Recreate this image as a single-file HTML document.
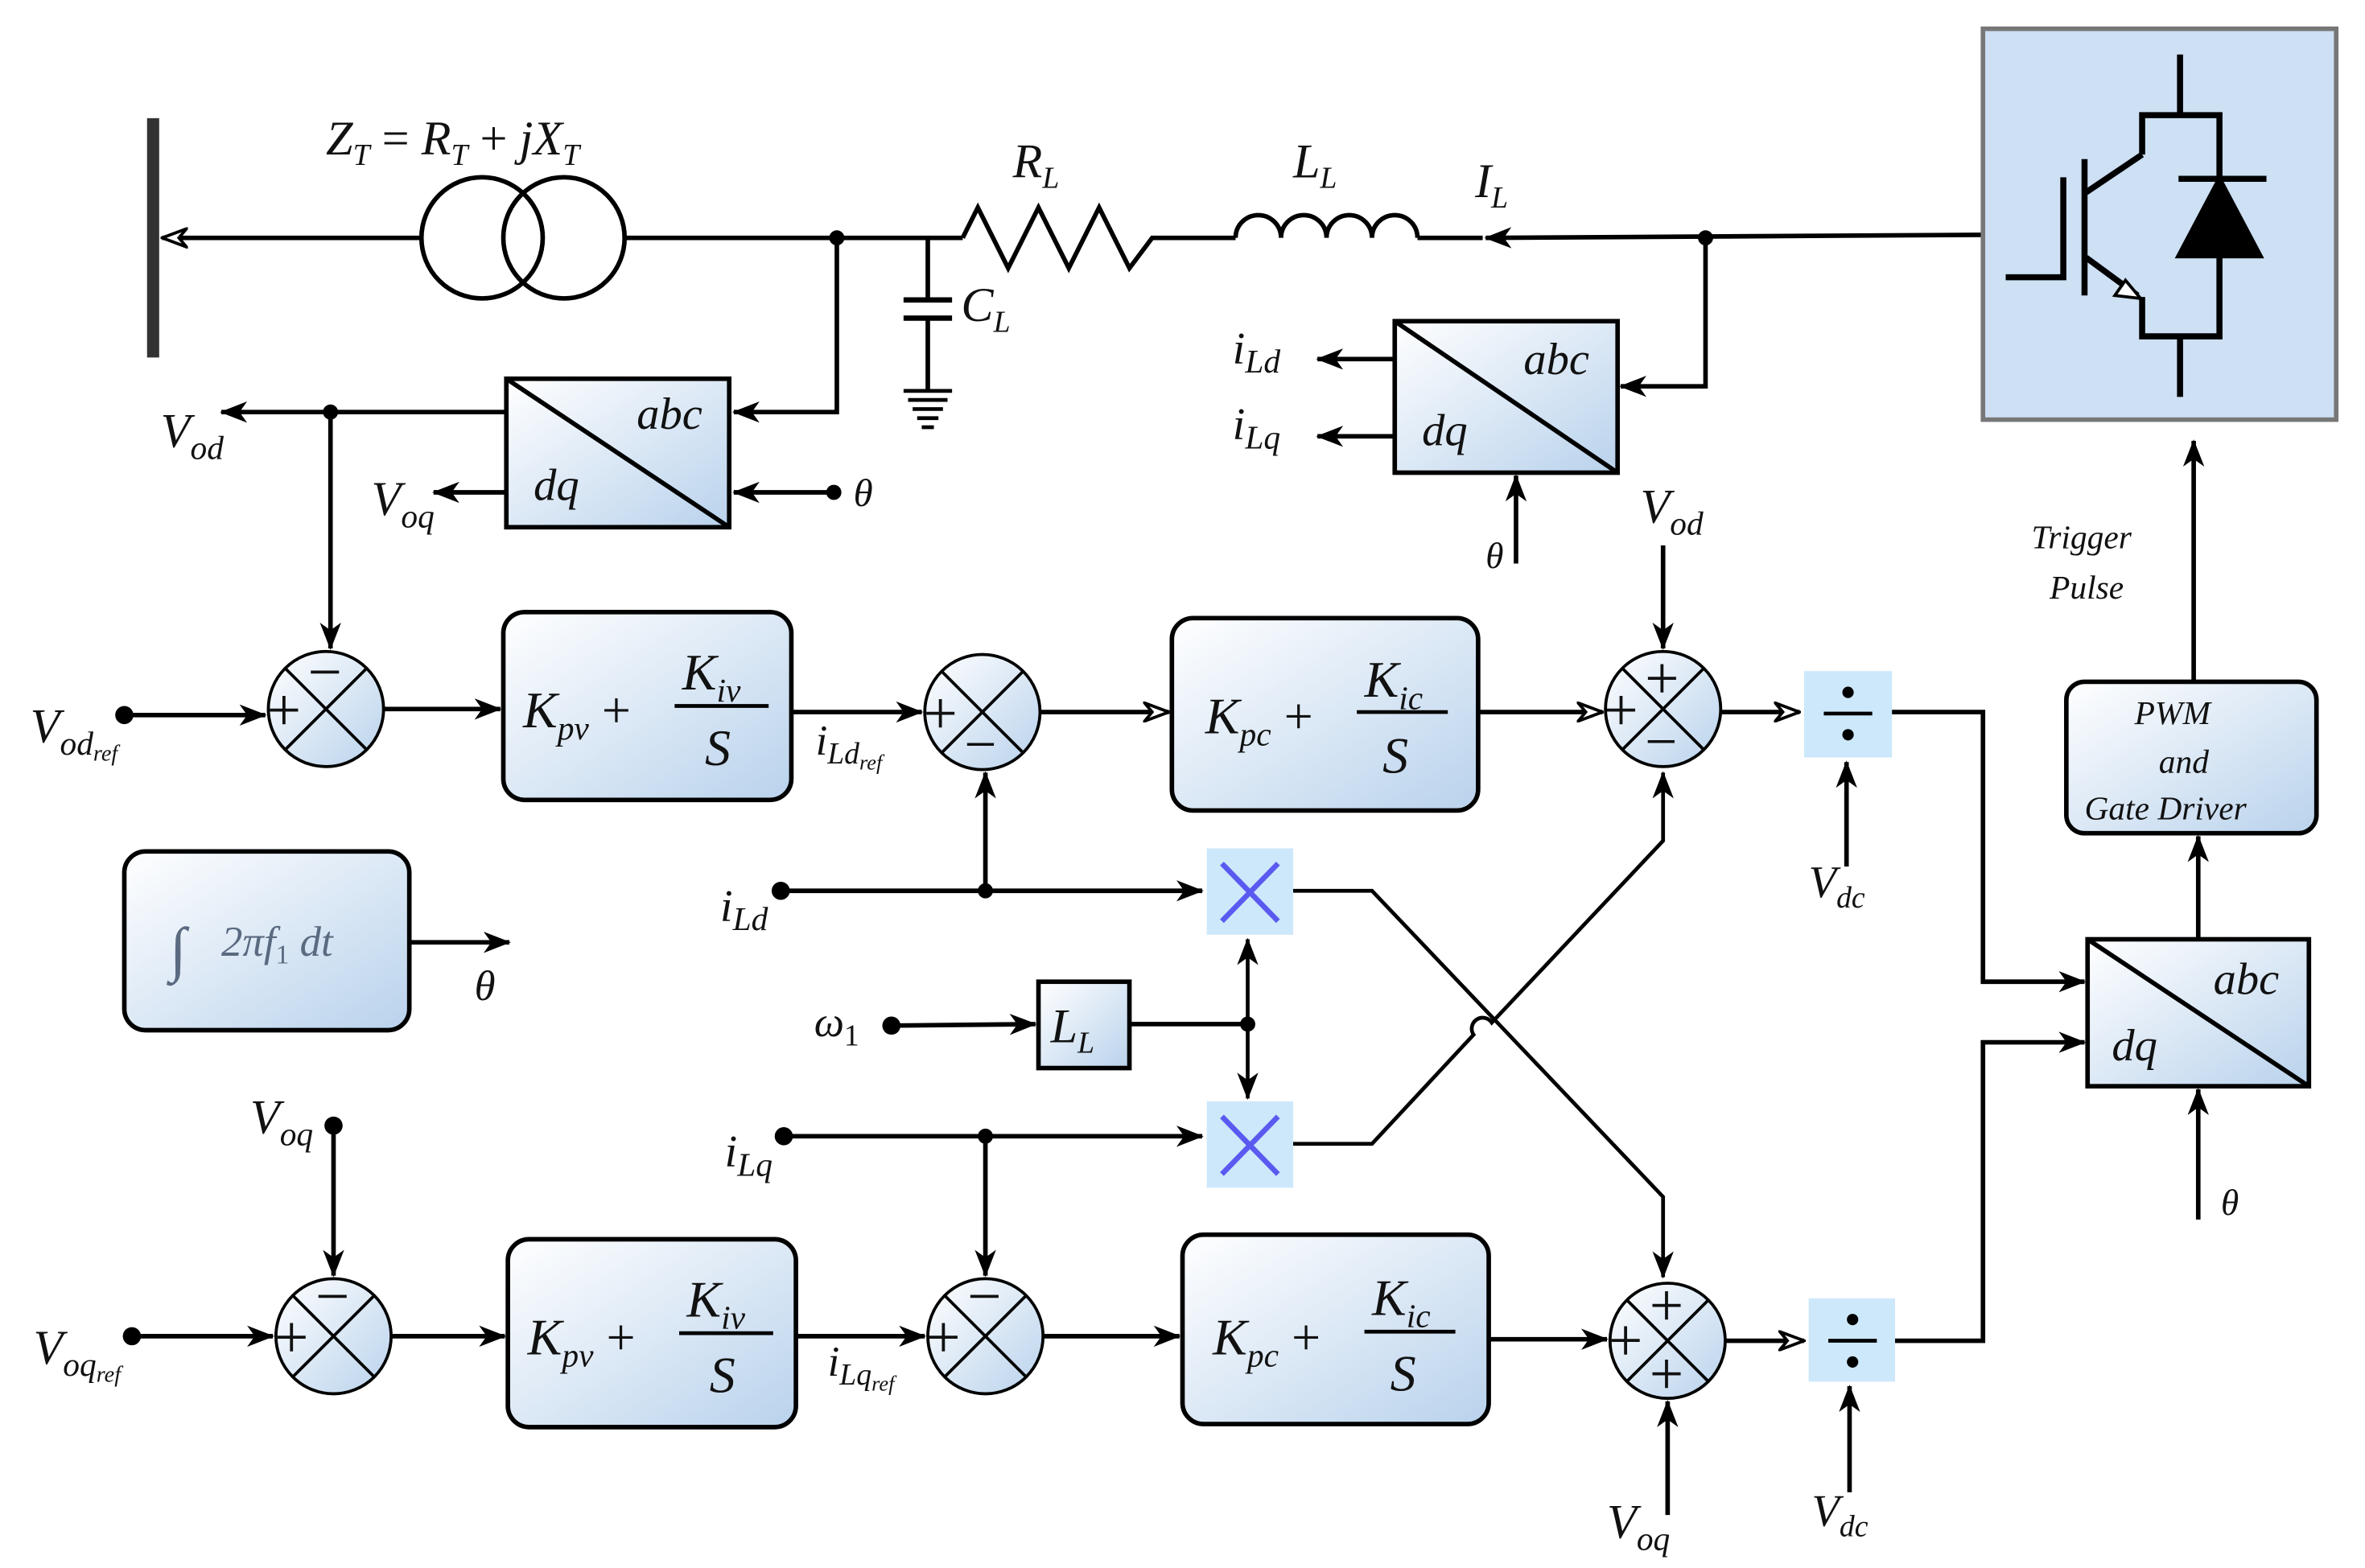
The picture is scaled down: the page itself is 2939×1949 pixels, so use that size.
<!DOCTYPE html>
<html><head><meta charset="utf-8"><style>
html,body{margin:0;padding:0;background:#fff;}
svg{display:block;}
text{font-family:"Liberation Serif",serif;font-style:italic;fill:#111;}
</style></head><body>
<svg width="2939" height="1949" viewBox="0 0 1560 1035" preserveAspectRatio="none" xmlns="http://www.w3.org/2000/svg">
<defs>
<linearGradient id="g" x1="0" y1="0" x2="1" y2="1">
<stop offset="0" stop-color="#ffffff"/><stop offset="1" stop-color="#b9d2ec"/>
</linearGradient>
<marker id="a" markerWidth="18" markerHeight="14" refX="17" refY="7" orient="auto" markerUnits="userSpaceOnUse">
<path d="M0,0 L18,7 L0,14 L5,7 Z" fill="#000"/></marker>
<marker id="o" markerWidth="18" markerHeight="14" refX="17" refY="7" orient="auto" markerUnits="userSpaceOnUse">
<path d="M1,1 L17,7 L1,13 L6,7 Z" fill="#fff" stroke="#000" stroke-width="2"/></marker>
</defs>
<g stroke="#000" stroke-width="3" fill="none">
<line x1="101" y1="78" x2="101" y2="236" stroke="#333" stroke-width="8"/>
<line x1="278" y1="157" x2="107" y2="157" marker-end="url(#o)"/>
<circle cx="318" cy="157" r="40"/><circle cx="372" cy="157" r="40"/>
<line x1="412" y1="157" x2="635" y2="157"/>
<polyline points="635,157 645,137 665,177 685,137 705,177 725,137 745,177 760,157 815,157"/>
<path d="M815,157 a15,15 0 0 1 30,0 a15,15 0 0 1 30,0 a15,15 0 0 1 30,0 a15,15 0 0 1 30,0 M935,157 L978,157"/>
<line x1="1310" y1="155" x2="980" y2="157" marker-end="url(#a)"/>
<line x1="612" y1="157" x2="612" y2="198"/>
<line x1="596" y1="198" x2="628" y2="198" stroke-width="3.5"/>
<line x1="596" y1="210" x2="628" y2="210" stroke-width="3.5"/>
<line x1="612" y1="210" x2="612" y2="258"/>
<line x1="596" y1="258" x2="628" y2="258" stroke-width="2.5"/>
<line x1="599" y1="264" x2="625" y2="264" stroke-width="2.5"/>
<line x1="602" y1="270" x2="622" y2="270" stroke-width="2.5"/>
<line x1="605" y1="276" x2="619" y2="276" stroke-width="2.5"/>
<line x1="608" y1="282" x2="616" y2="282" stroke-width="2.5"/>
<polyline points="552,157 552,272 484,272" marker-end="url(#a)"/>
<rect x="334" y="250" width="147" height="98" fill="url(#g)"/>
<line x1="334" y1="250" x2="481" y2="348"/>
<line x1="334" y1="272" x2="146" y2="272" marker-end="url(#a)"/>
<line x1="334" y1="325" x2="286" y2="325" marker-end="url(#a)"/>
<line x1="550" y1="325" x2="484" y2="325" marker-end="url(#a)"/>
<line x1="218" y1="272" x2="218" y2="428" marker-end="url(#a)"/>
<polyline points="1125,157 1125,255 1069,255" marker-end="url(#a)"/>
<rect x="920" y="212" width="147" height="100" fill="url(#g)"/>
<line x1="920" y1="212" x2="1067" y2="312"/>
<line x1="920" y1="237" x2="869" y2="237" marker-end="url(#a)"/>
<line x1="920" y1="288" x2="869" y2="288" marker-end="url(#a)"/>
<line x1="1000" y1="372" x2="1000" y2="314" marker-end="url(#a)"/>
<rect x="1308" y="19" width="233" height="258" fill="#cde0f4" stroke="#777" stroke-width="3"/>
<g stroke-width="4">
<line x1="1438" y1="36" x2="1438" y2="76"/>
<polyline points="1413,102 1413,76 1464,76 1464,222 1413,222 1413,196"/>
<line x1="1413" y1="102" x2="1376" y2="127"/>
<line x1="1375" y1="105" x2="1375" y2="195"/>
<polyline points="1361,117 1361,183 1323,183"/>
<line x1="1376" y1="170" x2="1410" y2="195"/>
<line x1="1437" y1="118" x2="1495" y2="118"/>
<line x1="1438" y1="222" x2="1438" y2="262"/>
</g>
<path d="M1464,118 L1437,169 L1491,169 Z" fill="#000"/>
<path d="M1412,197 L1395,195 L1402,185 Z" fill="#fff" stroke-width="2"/>
<line x1="82" y1="472" x2="175" y2="472" marker-end="url(#a)"/>
<circle cx="215" cy="468" r="38" fill="url(#g)" stroke-width="2"/>
<line x1="188" y1="441" x2="242" y2="495" stroke-width="2"/><line x1="242" y1="441" x2="188" y2="495" stroke-width="2"/>
<line x1="253" y1="468" x2="330" y2="468" marker-end="url(#a)"/>
<rect x="332" y="404" width="190" height="124" rx="14" fill="url(#g)"/>
<line x1="522" y1="470" x2="608" y2="470" marker-end="url(#a)"/>
<circle cx="648" cy="470" r="38" fill="url(#g)" stroke-width="2"/>
<line x1="621" y1="443" x2="675" y2="497" stroke-width="2"/><line x1="675" y1="443" x2="621" y2="497" stroke-width="2"/>
<line x1="686" y1="470" x2="771" y2="470" marker-end="url(#o)"/>
<rect x="773" y="408" width="202" height="127" rx="14" fill="url(#g)"/>
<line x1="975" y1="470" x2="1057" y2="470" marker-end="url(#o)"/>
<circle cx="1097" cy="468" r="38" fill="url(#g)" stroke-width="2"/>
<line x1="1070" y1="441" x2="1124" y2="495" stroke-width="2"/><line x1="1124" y1="441" x2="1070" y2="495" stroke-width="2"/>
<line x1="1097" y1="360" x2="1097" y2="428" marker-end="url(#a)"/>
<line x1="1135" y1="470" x2="1187" y2="470" marker-end="url(#o)"/>
<rect x="1190" y="443" width="58" height="57" fill="#cde8fb" stroke="none"/>
<line x1="1218" y1="572" x2="1218" y2="503" marker-end="url(#a)"/>
<polyline points="1248,470 1308,470 1308,648 1375,648" marker-end="url(#a)"/>
<rect x="1377" y="620" width="146" height="97" fill="url(#g)"/>
<line x1="1377" y1="620" x2="1523" y2="717"/>
<polyline points="1250,885 1308,885 1308,688 1375,688" marker-end="url(#a)"/>
<line x1="1450" y1="805" x2="1450" y2="719" marker-end="url(#a)"/>
<line x1="1450" y1="620" x2="1450" y2="552" marker-end="url(#a)"/>
<rect x="1363" y="450" width="165" height="100" rx="12" fill="url(#g)"/>
<line x1="1447" y1="450" x2="1447" y2="291" marker-end="url(#a)"/>
<line x1="515" y1="588" x2="793" y2="588" marker-end="url(#a)"/>
<line x1="650" y1="588" x2="650" y2="510" marker-end="url(#a)"/>
<rect x="796" y="560" width="57" height="57" fill="#cde8fb" stroke="none"/>
<rect x="796" y="727" width="57" height="57" fill="#cde8fb" stroke="none"/>
<line x1="588" y1="677" x2="683" y2="676" marker-end="url(#a)"/>
<rect x="685" y="648" width="60" height="57" fill="url(#g)"/>
<line x1="745" y1="676" x2="823" y2="676"/>
<line x1="823" y1="676" x2="823" y2="620" marker-end="url(#a)" stroke-width="2.5"/>
<line x1="823" y1="676" x2="823" y2="725" marker-end="url(#a)" stroke-width="2.5"/>
<line x1="517" y1="750" x2="793" y2="750" marker-end="url(#a)"/>
<line x1="650" y1="750" x2="650" y2="842" marker-end="url(#a)"/>
<polyline points="853,588 905,588 1097,790 1097,843" marker-end="url(#a)" stroke-width="2.5"/>
<path d="M853,755 L905,755 L972,683 a6,6 0 0 1 12,-8 L1097,555 L1097,510" marker-end="url(#a)" stroke-width="2.5"/>
<rect x="82" y="562" width="188" height="118" rx="14" fill="url(#g)"/>
<line x1="270" y1="622" x2="336" y2="622" marker-end="url(#a)"/>
<line x1="220" y1="743" x2="220" y2="842" marker-end="url(#a)"/>
<line x1="87" y1="882" x2="180" y2="882" marker-end="url(#a)"/>
<circle cx="220" cy="882" r="38" fill="url(#g)" stroke-width="2"/>
<line x1="193" y1="855" x2="247" y2="909" stroke-width="2"/><line x1="247" y1="855" x2="193" y2="909" stroke-width="2"/>
<line x1="258" y1="882" x2="333" y2="882" marker-end="url(#a)"/>
<rect x="335" y="818" width="190" height="124" rx="14" fill="url(#g)"/>
<line x1="525" y1="882" x2="610" y2="882" marker-end="url(#a)"/>
<circle cx="650" cy="882" r="38" fill="url(#g)" stroke-width="2"/>
<line x1="623" y1="855" x2="677" y2="909" stroke-width="2"/><line x1="677" y1="855" x2="623" y2="909" stroke-width="2"/>
<line x1="688" y1="882" x2="778" y2="882" marker-end="url(#a)"/>
<rect x="780" y="815" width="202" height="125" rx="14" fill="url(#g)"/>
<line x1="982" y1="884" x2="1060" y2="884" marker-end="url(#a)"/>
<circle cx="1100" cy="885" r="38" fill="url(#g)" stroke-width="2"/>
<line x1="1073" y1="858" x2="1127" y2="912" stroke-width="2"/><line x1="1127" y1="858" x2="1073" y2="912" stroke-width="2"/>
<line x1="1100" y1="1000" x2="1100" y2="925" marker-end="url(#a)"/>
<line x1="1138" y1="885" x2="1190" y2="885" marker-end="url(#o)"/>
<rect x="1193" y="857" width="57" height="55" fill="#cde8fb" stroke="none"/>
<line x1="1220" y1="985" x2="1220" y2="915" marker-end="url(#a)"/>
</g>
<g fill="#000">
<circle cx="552" cy="157" r="5"/><circle cx="1125" cy="157" r="5"/><circle cx="218" cy="272" r="5"/>
<circle cx="550" cy="325" r="5"/><circle cx="82" cy="472" r="6"/><circle cx="515" cy="588" r="6"/>
<circle cx="650" cy="588" r="5"/><circle cx="588" cy="677" r="6"/><circle cx="823" cy="676" r="5"/>
<circle cx="517" cy="750" r="6"/><circle cx="650" cy="750" r="5"/><circle cx="220" cy="743" r="6"/>
<circle cx="87" cy="882" r="6"/>
</g>
<g fill="#000" stroke="#000" stroke-width="2.5">
<line x1="1203" y1="471" x2="1235" y2="471"/><circle cx="1219" cy="457" r="2.5"/><circle cx="1219" cy="485" r="2.5"/>
<line x1="1206" y1="885" x2="1238" y2="885"/><circle cx="1222" cy="871" r="2.5"/><circle cx="1222" cy="899" r="2.5"/>
</g>
<g stroke="#5a5af0" stroke-width="3.5">
<line x1="806" y1="570" x2="843" y2="608"/><line x1="843" y1="570" x2="806" y2="608"/>
<line x1="806" y1="737" x2="843" y2="775"/><line x1="843" y1="737" x2="806" y2="775"/>
</g>
<g style="font-style:normal">
<text x="176" y="482" font-size="40" style="font-style:normal">+</text><text x="203" y="457" font-size="40" style="font-style:normal">−</text>
<text x="609" y="484" font-size="40" style="font-style:normal">+</text><text x="636" y="504" font-size="38" style="font-style:normal">−</text>
<text x="1058" y="482" font-size="40" style="font-style:normal">+</text><text x="1085" y="461" font-size="40" style="font-style:normal">+</text><text x="1085" y="502" font-size="38" style="font-style:normal">−</text>
<text x="181" y="896" font-size="40" style="font-style:normal">+</text><text x="208" y="869" font-size="40" style="font-style:normal">−</text>
<text x="611" y="896" font-size="40" style="font-style:normal">+</text><text x="638" y="869" font-size="40" style="font-style:normal">−</text>
<text x="1061" y="898" font-size="40" style="font-style:normal">+</text><text x="1088" y="875" font-size="40" style="font-style:normal">+</text><text x="1088" y="920" font-size="40" style="font-style:normal">+</text>
</g>
<text x="215" y="102" font-size="32">Z<tspan font-size="20" dy="7">T</tspan><tspan dy="-7" style="font-style:normal"> = </tspan>R<tspan font-size="20" dy="7">T</tspan><tspan dy="-7" style="font-style:normal"> + </tspan>jX<tspan font-size="20" dy="7">T</tspan></text>
<text x="668" y="117" font-size="32">R<tspan font-size="20" dy="7">L</tspan></text>
<text x="853" y="117" font-size="32">L<tspan font-size="20" dy="7">L</tspan></text>
<text x="973" y="130" font-size="32">I<tspan font-size="20" dy="7">L</tspan></text>
<text x="634" y="212" font-size="32">C<tspan font-size="20" dy="7">L</tspan></text>
<text x="106" y="295" font-size="32">V<tspan font-size="22" dy="8">od</tspan></text>
<text x="245" y="340" font-size="32">V<tspan font-size="22" dy="8">oq</tspan></text>
<text x="420" y="283" font-size="30">abc</text>
<text x="352" y="330" font-size="30">dq</text>
<text x="563" y="334" font-size="26">θ</text>
<text x="1005" y="247" font-size="30">abc</text>
<text x="938" y="294" font-size="30">dq</text>
<text x="813" y="240" font-size="30">i<tspan font-size="22" dy="6">Ld</tspan></text>
<text x="813" y="290" font-size="30">i<tspan font-size="22" dy="6">Lq</tspan></text>
<text x="980" y="375" font-size="24">θ</text>
<text x="1082" y="345" font-size="32">V<tspan font-size="22" dy="8">od</tspan></text>
<text x="1340" y="362" font-size="22">Trigger</text>
<text x="1352" y="395" font-size="22">Pulse</text>
<text x="1408" y="478" font-size="22">PWM</text>
<text x="1424" y="510" font-size="22">and</text>
<text x="1375" y="541" font-size="22">Gate Driver</text>
<text x="1460" y="656" font-size="30">abc</text>
<text x="1393" y="700" font-size="30">dq</text>
<text x="1465" y="802" font-size="24">θ</text>
<text x="1193" y="592" font-size="30">V<tspan font-size="20" dy="7">dc</tspan></text>
<text x="1195" y="1007" font-size="30">V<tspan font-size="20" dy="7">dc</tspan></text>
<text x="1060" y="1015" font-size="32">V<tspan font-size="22" dy="8">oq</tspan></text>
<text x="20" y="490" font-size="32">V<tspan font-size="22" dy="8">od</tspan><tspan font-size="15" dy="4">ref</tspan></text>
<text x="22" y="900" font-size="32">V<tspan font-size="22" dy="8">oq</tspan><tspan font-size="15" dy="4">ref</tspan></text>
<text x="165" y="748" font-size="32">V<tspan font-size="22" dy="8">oq</tspan></text>
<text x="538" y="498" font-size="28">i<tspan font-size="20" dy="6">Ld</tspan><tspan font-size="14" dy="4">ref</tspan></text>
<text x="546" y="908" font-size="28">i<tspan font-size="20" dy="6">Lq</tspan><tspan font-size="14" dy="4">ref</tspan></text>
<text x="475" y="608" font-size="30">i<tspan font-size="22" dy="6">Ld</tspan></text>
<text x="478" y="770" font-size="30">i<tspan font-size="22" dy="6">Lq</tspan></text>
<text x="537" y="684" font-size="28">ω<tspan font-size="20" dy="6" style="font-style:normal">1</tspan></text>
<text x="693" y="688" font-size="32">L<tspan font-size="20" dy="7">L</tspan></text>
<text x="313" y="660" font-size="28">θ</text>
<text x="112" y="640" font-size="40" style="fill:#5a6a80">∫</text>
<text x="146" y="631" font-size="28" style="fill:#5a6a80">2πf<tspan font-size="18" dy="5" style="font-style:normal">1</tspan><tspan dy="-5"> dt</tspan></text>
<g font-size="34">
<text x="345" y="480">K<tspan font-size="22" dy="8">pv</tspan><tspan dy="-8" style="font-style:normal"> + </tspan></text>
<text x="450" y="455">K<tspan font-size="22" dy="8">iv</tspan></text><line x1="445" y1="466" x2="507" y2="466" stroke="#000" stroke-width="2.5"/><text x="465" y="505">S</text>
<text x="795" y="484">K<tspan font-size="22" dy="8">pc</tspan><tspan dy="-8" style="font-style:normal"> + </tspan></text>
<text x="900" y="460">K<tspan font-size="22" dy="8">ic</tspan></text><line x1="895" y1="470" x2="955" y2="470" stroke="#000" stroke-width="2.5"/><text x="912" y="510">S</text>
<text x="348" y="894">K<tspan font-size="22" dy="8">pv</tspan><tspan dy="-8" style="font-style:normal"> + </tspan></text>
<text x="453" y="869">K<tspan font-size="22" dy="8">iv</tspan></text><line x1="448" y1="880" x2="510" y2="880" stroke="#000" stroke-width="2.5"/><text x="468" y="919">S</text>
<text x="800" y="894">K<tspan font-size="22" dy="8">pc</tspan><tspan dy="-8" style="font-style:normal"> + </tspan></text>
<text x="905" y="868">K<tspan font-size="22" dy="8">ic</tspan></text><line x1="900" y1="879" x2="960" y2="879" stroke="#000" stroke-width="2.5"/><text x="917" y="918">S</text>
</g>
</svg>
</body></html>
